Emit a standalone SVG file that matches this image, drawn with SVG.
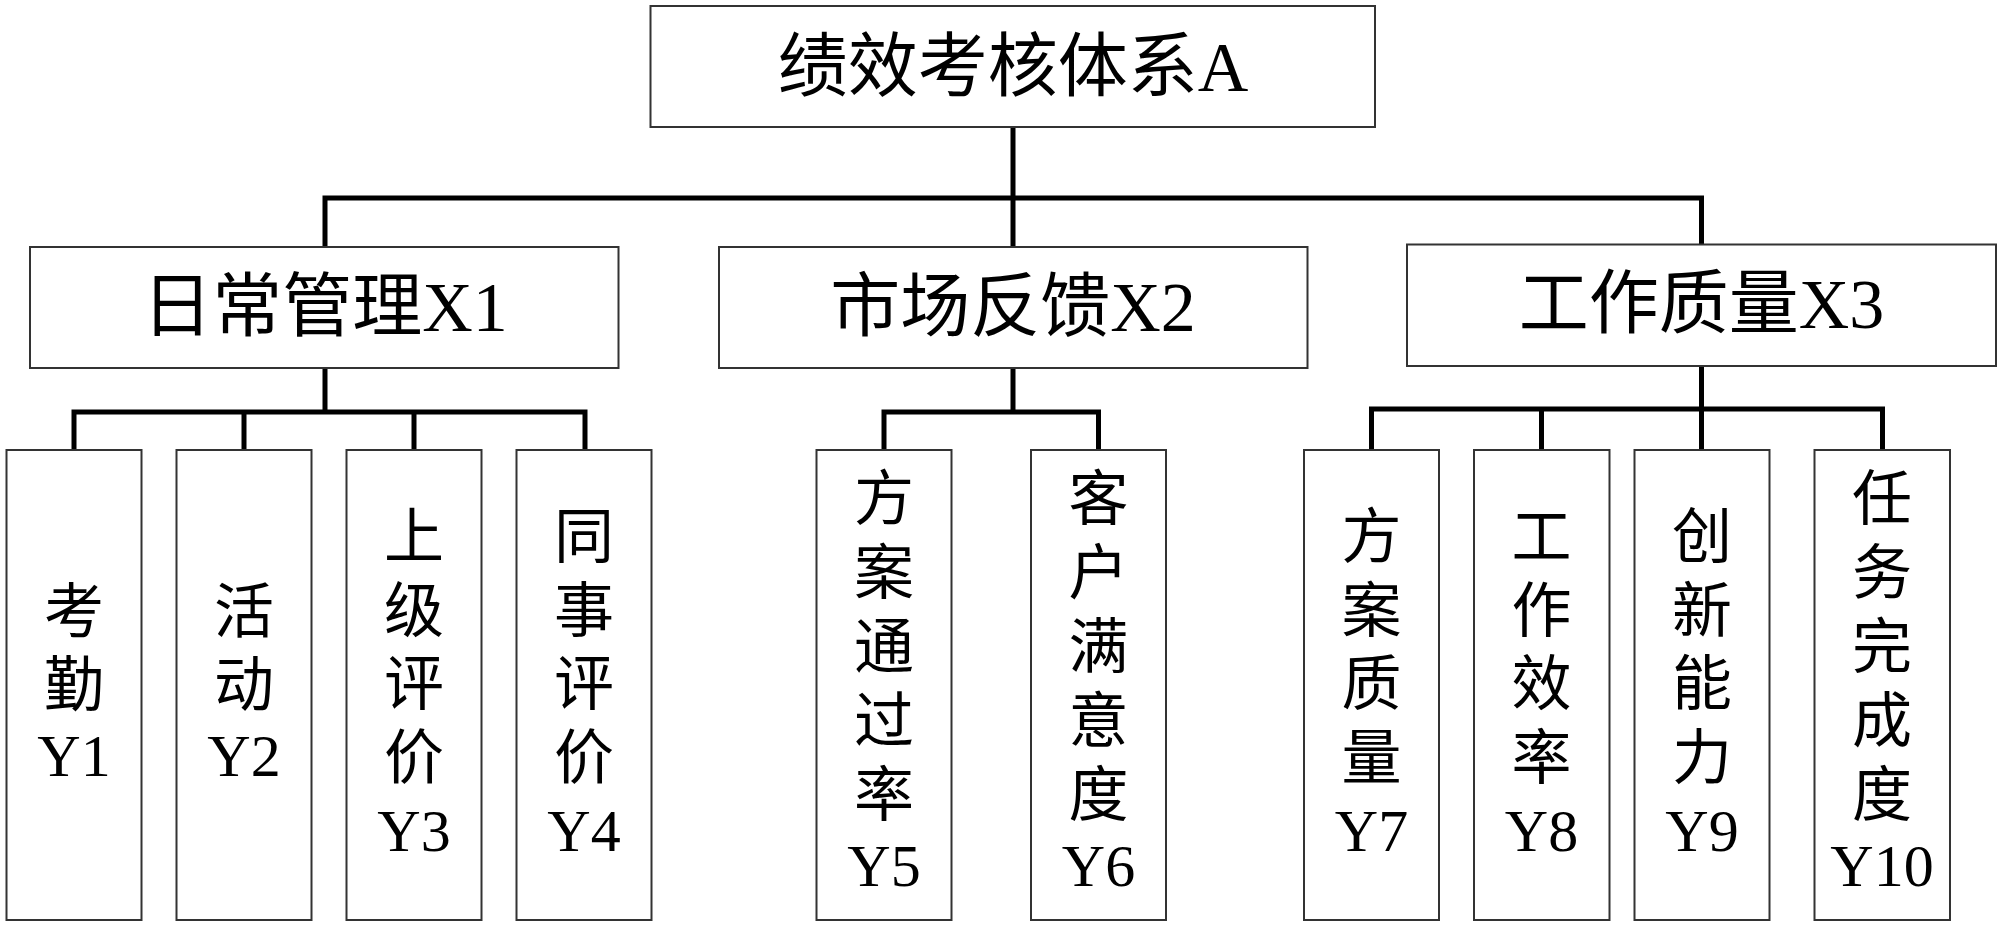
<svg xmlns="http://www.w3.org/2000/svg" width="2000" height="926" viewBox="0 0 2000 926">
<style>
.box{fill:#fff;stroke:#333;stroke-width:2}
.ln{fill:none;stroke:#000;stroke-width:5;stroke-linejoin:miter;stroke-linecap:butt}
text{font-family:"Liberation Serif","Noto Sans CJK SC",serif;fill:#000;text-anchor:middle}
.t1{font-size:70px}
.t3{font-size:60px}
</style>
<rect width="2000" height="926" fill="#fff"/>
<g id="connectors">
<path class="ln" d="M1013,127 V247 M325,247 V198 H1701.5 V245"/>
<path class="ln" d="M325,368 V412 M74,450 V412 H585 V450 M244,412 V450 M414,412 V450"/>
<path class="ln" d="M1013,368 V412 M884,450 V412 H1098.5 V450"/>
<path class="ln" d="M1701.5,366 V450 M1371.5,450 V409 H1882.5 V450 M1541.5,409 V450"/>
</g>
<g id="A">
<rect class="box" x="650.5" y="6" width="724.5" height="121"/>
<text class="t1" x="1013" y="91">绩效考核体系A</text>
</g>
<g id="X1">
<rect class="box" x="30" y="247" width="588.5" height="121"/>
<text class="t1" x="325" y="331">日常管理X1</text>
</g>
<g id="X2">
<rect class="box" x="719" y="247" width="588.5" height="121"/>
<text class="t1" x="1013" y="331">市场反馈X2</text>
</g>
<g id="X3">
<rect class="box" x="1407" y="244.5" width="589" height="121.5"/>
<text class="t1" x="1701.5" y="328">工作质量X3</text>
</g>
<g id="Y1">
<rect class="box" x="6.5" y="450" width="135" height="470"/>
<text class="t3"><tspan x="74" y="633">考</tspan><tspan x="74" y="706">勤</tspan><tspan x="74" y="776">Y1</tspan></text>
</g>
<g id="Y2">
<rect class="box" x="176.5" y="450" width="135" height="470"/>
<text class="t3"><tspan x="244" y="633">活</tspan><tspan x="244" y="706">动</tspan><tspan x="244" y="776">Y2</tspan></text>
</g>
<g id="Y3">
<rect class="box" x="346.5" y="450" width="135" height="470"/>
<text class="t3"><tspan x="414" y="558">上</tspan><tspan x="414" y="632">级</tspan><tspan x="414" y="705">评</tspan><tspan x="414" y="779">价</tspan><tspan x="414" y="851">Y3</tspan></text>
</g>
<g id="Y4">
<rect class="box" x="516.5" y="450" width="135" height="470"/>
<text class="t3"><tspan x="584" y="558">同</tspan><tspan x="584" y="632">事</tspan><tspan x="584" y="705">评</tspan><tspan x="584" y="779">价</tspan><tspan x="584" y="851">Y4</tspan></text>
</g>
<g id="Y5">
<rect class="box" x="816.5" y="450" width="135" height="470"/>
<text class="t3"><tspan x="884" y="520">方</tspan><tspan x="884" y="594">案</tspan><tspan x="884" y="668">通</tspan><tspan x="884" y="742">过</tspan><tspan x="884" y="816">率</tspan><tspan x="884" y="886">Y5</tspan></text>
</g>
<g id="Y6">
<rect class="box" x="1031" y="450" width="135" height="470"/>
<text class="t3"><tspan x="1098.5" y="520">客</tspan><tspan x="1098.5" y="594">户</tspan><tspan x="1098.5" y="668">满</tspan><tspan x="1098.5" y="742">意</tspan><tspan x="1098.5" y="816">度</tspan><tspan x="1098.5" y="886">Y6</tspan></text>
</g>
<g id="Y7">
<rect class="box" x="1304" y="450" width="135" height="470"/>
<text class="t3"><tspan x="1371.5" y="558">方</tspan><tspan x="1371.5" y="632">案</tspan><tspan x="1371.5" y="705">质</tspan><tspan x="1371.5" y="779">量</tspan><tspan x="1371.5" y="851">Y7</tspan></text>
</g>
<g id="Y8">
<rect class="box" x="1474" y="450" width="135.5" height="470"/>
<text class="t3"><tspan x="1541.5" y="558">工</tspan><tspan x="1541.5" y="632">作</tspan><tspan x="1541.5" y="705">效</tspan><tspan x="1541.5" y="779">率</tspan><tspan x="1541.5" y="851">Y8</tspan></text>
</g>
<g id="Y9">
<rect class="box" x="1634.5" y="450" width="135" height="470"/>
<text class="t3"><tspan x="1702" y="558">创</tspan><tspan x="1702" y="632">新</tspan><tspan x="1702" y="705">能</tspan><tspan x="1702" y="779">力</tspan><tspan x="1702" y="851">Y9</tspan></text>
</g>
<g id="Y10">
<rect class="box" x="1814.5" y="450" width="135.5" height="470"/>
<text class="t3"><tspan x="1882" y="520">任</tspan><tspan x="1882" y="594">务</tspan><tspan x="1882" y="668">完</tspan><tspan x="1882" y="742">成</tspan><tspan x="1882" y="816">度</tspan><tspan x="1882" y="886">Y10</tspan></text>
</g>
</svg>
